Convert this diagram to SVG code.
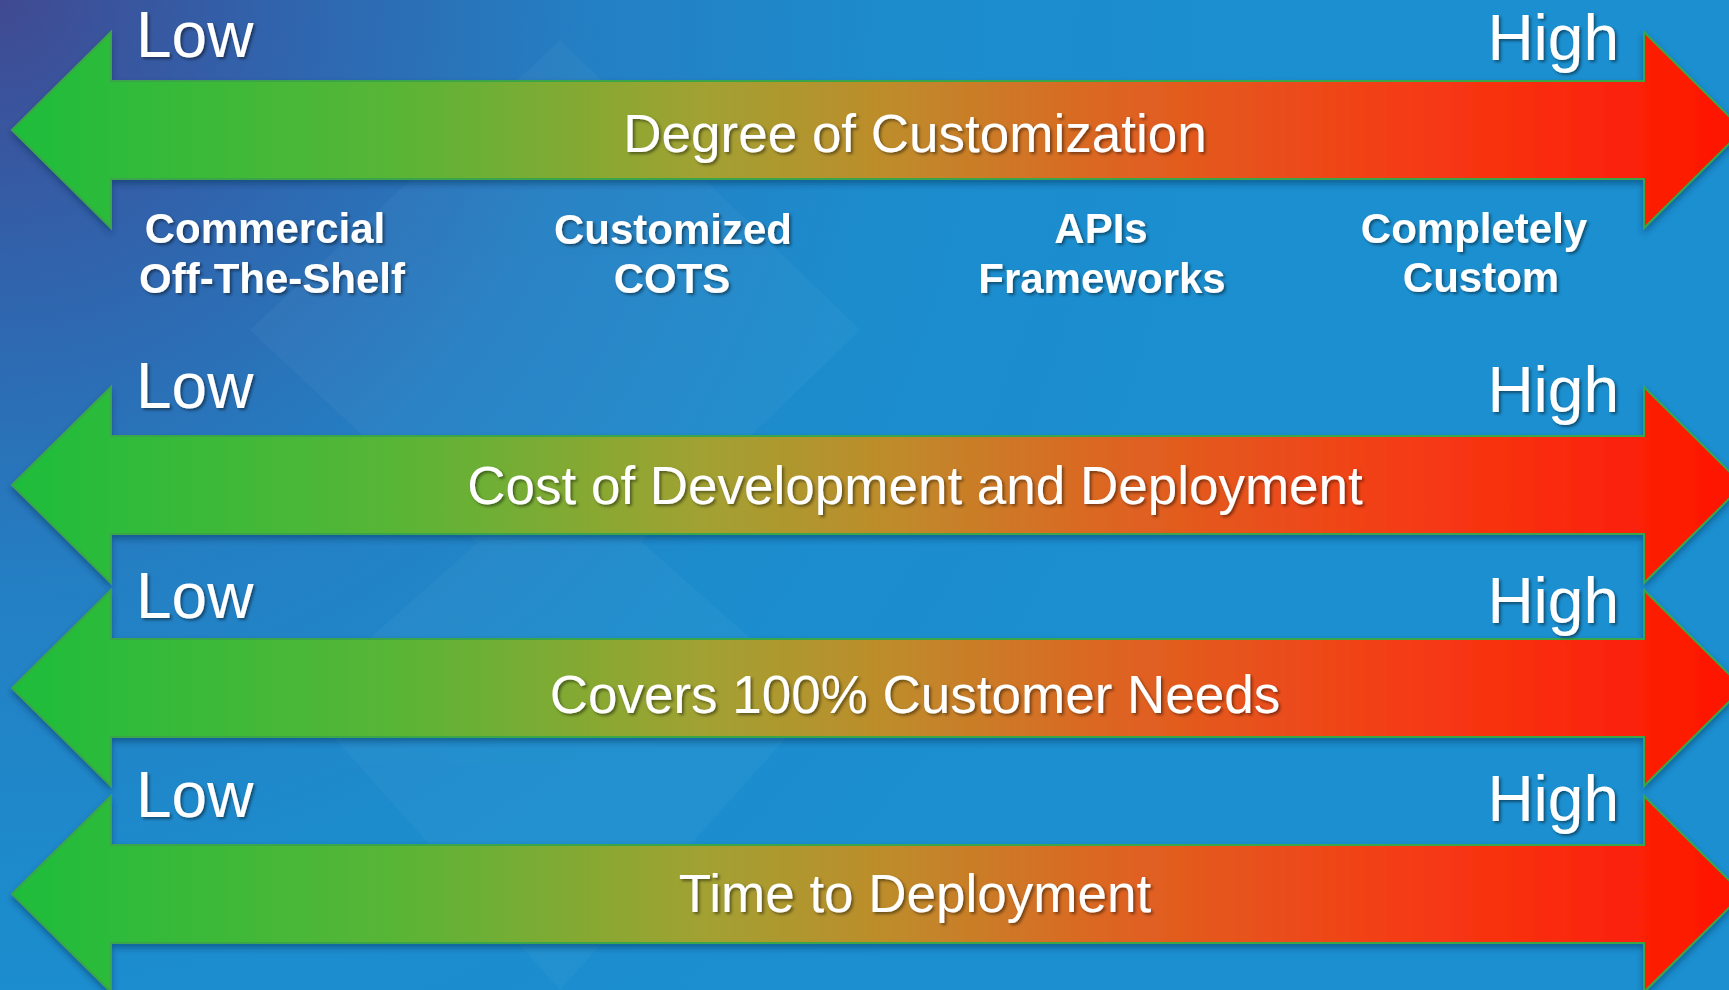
<svg xmlns="http://www.w3.org/2000/svg" width="1729" height="990" viewBox="0 0 1729 990">
<style>
.ttl{font-family:"Liberation Sans",Arial,sans-serif;font-size:53px;fill:#fff;text-anchor:middle}
.lh{font-family:"Liberation Sans",Arial,sans-serif;font-size:64px;fill:#fff}
.lab{font-family:"Liberation Sans",Arial,sans-serif;font-size:42px;font-weight:bold;fill:#fff;text-anchor:middle}
.arr{fill:url(#ag);stroke:#3aa548;stroke-width:2;filter:url(#ash)}
</style>
<defs>
<radialGradient id="bg" cx="0" cy="0" r="1300" gradientUnits="userSpaceOnUse">
<stop offset="0" stop-color="#404a92"/>
<stop offset="0.2" stop-color="#3162ab"/>
<stop offset="0.45" stop-color="#247fc3"/>
<stop offset="0.7" stop-color="#1c8ccd"/>
<stop offset="1" stop-color="#1b8fd0"/>
</radialGradient>
<linearGradient id="ag" x1="12" y1="0" x2="1743" y2="0" gradientUnits="userSpaceOnUse">
<stop offset="0" stop-color="#1ebd3c"/>
<stop offset="0.22" stop-color="#58b536"/>
<stop offset="0.40" stop-color="#a2a131"/>
<stop offset="0.51" stop-color="#bf8b2b"/>
<stop offset="0.63" stop-color="#dc6622"/>
<stop offset="0.80" stop-color="#f43d16"/>
<stop offset="1" stop-color="#ff1400"/>
</linearGradient>
<filter id="ash" x="-5%" y="-30%" width="110%" height="160%">
<feDropShadow dx="0" dy="4" stdDeviation="3" flood-color="#0a2a55" flood-opacity="0.45"/>
</filter>
<filter id="tsh" x="-10%" y="-30%" width="120%" height="160%">
<feDropShadow dx="2" dy="2" stdDeviation="1.5" flood-color="#000" flood-opacity="0.45"/>
</filter>
<path id="arrow" d="M12,0 L111,-98 L111,-49 L1644,-49 L1644,-98 L1743,0 L1644,98 L1644,49 L111,49 L111,98 Z"/>
</defs>
<rect width="1729" height="990" fill="url(#bg)"/>
<g opacity="0.03" fill="#ffffff">
<path d="M250,330 L560,40 L860,330 L560,620 Z"/>
<path d="M300,700 L560,990 L820,700 L560,470 Z"/>
</g>
<g id="connectors">
<use href="#arrow" class="arr" transform="translate(0,130)"/>
<use href="#arrow" class="arr" transform="translate(0,485)"/>
<use href="#arrow" class="arr" transform="translate(0,688)"/>
<use href="#arrow" class="arr" transform="translate(0,894)"/>
</g>
<g id="scale-customization" filter="url(#tsh)">
<text class="lh" x="136" y="57">Low</text>
<text class="lh" x="1619" y="60" text-anchor="end">High</text>
<text class="ttl" x="915" y="152">Degree of Customization</text>
</g>
<g id="node-cots" filter="url(#tsh)">
<text class="lab" x="265" y="243">Commercial</text>
<text class="lab" x="272" y="293">Off-The-Shelf</text>
</g>
<g id="node-customized-cots" filter="url(#tsh)">
<text class="lab" x="673" y="244">Customized</text>
<text class="lab" x="672" y="293">COTS</text>
</g>
<g id="node-apis" filter="url(#tsh)">
<text class="lab" x="1101" y="243">APIs</text>
<text class="lab" x="1102" y="293">Frameworks</text>
</g>
<g id="node-custom" filter="url(#tsh)">
<text class="lab" x="1474" y="243">Completely</text>
<text class="lab" x="1481" y="292">Custom</text>
</g>
<g id="scale-cost" filter="url(#tsh)">
<text class="lh" x="136" y="408">Low</text>
<text class="lh" x="1619" y="412" text-anchor="end">High</text>
<text class="ttl" x="915" y="504">Cost of Development and Deployment</text>
</g>
<g id="scale-needs" filter="url(#tsh)">
<text class="lh" x="136" y="618">Low</text>
<text class="lh" x="1619" y="623" text-anchor="end">High</text>
<text class="ttl" x="915" y="713">Covers 100% Customer Needs</text>
</g>
<g id="scale-time" filter="url(#tsh)">
<text class="lh" x="136" y="817">Low</text>
<text class="lh" x="1619" y="821" text-anchor="end">High</text>
<text class="ttl" x="915" y="912">Time to Deployment</text>
</g>
</svg>
